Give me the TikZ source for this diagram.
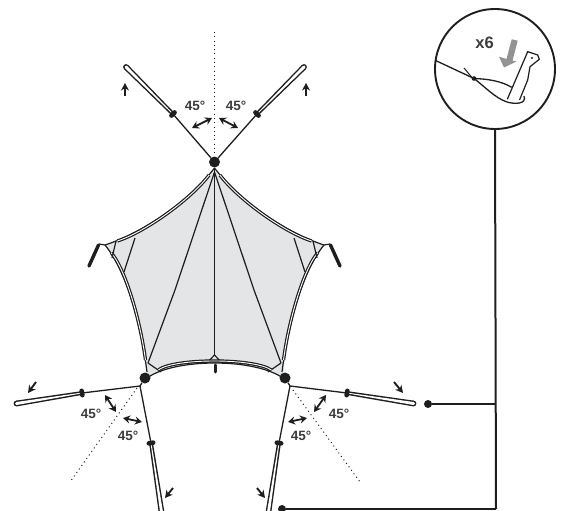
\documentclass[tikz,border=0pt]{standalone}
\usepackage{fontspec}
\setmainfont{Liberation Sans}
\usetikzlibrary{arrows.meta,calc}
\definecolor{ink}{HTML}{1E1E1E}
\definecolor{tent}{HTML}{E3E5E7}
\definecolor{lab}{HTML}{3C3C3C}
\tikzset{
  x=1pt,y=-1pt,
  guy/.style={draw=ink,line width=1.3pt},
  rib/.style={draw=ink,line width=1.2pt},
  dotnode/.style={circle,fill=ink,inner sep=0pt,minimum size=#1},
  dotted guide/.style={draw=ink,line width=1pt,dash pattern=on 1pt off 3.3pt},
  dbl/.style={double=white,double distance=0.9pt,draw=ink,line width=1.2pt},
  small arrow/.style={draw=ink,line width=1.9pt,-{Stealth[length=7.5pt,width=8pt,inset=2.4pt]}},
  both arrow/.style={draw=ink,line width=1.8pt,{Stealth[length=7pt,width=8pt,inset=2.4pt]}-{Stealth[length=7pt,width=8pt,inset=2.4pt]}},
  deg/.style={font=\fontsize{13.5}{15}\selectfont\bfseries,text=lab,inner sep=0pt},
  link/.style={draw=ink,line width=2pt},
}
% loop: from knot (#1) to tip (#2)
\newcommand{\guyloop}[2]{%
  \fill[ink] ($(#1)!1.9pt!90:(#2)$) -- ($(#2)!2.9pt!-90:(#1)$) -- ($(#2)!2.9pt!90:(#1)$) -- ($(#1)!1.9pt!-90:(#2)$) -- cycle;
  \fill[ink] (#2) circle (2.9pt);
  \fill[white] ($(#1)!0.4pt!90:(#2)$) -- ($(#2)!1.5pt!-90:(#1)$) -- ($(#2)!1.5pt!90:(#1)$) -- ($(#1)!0.4pt!-90:(#2)$) -- cycle;
  \fill[white] (#2) circle (1.5pt);
  \draw[ink,line width=4.6pt,line cap=round] ($(#1)!2.2pt!90:(#2)$) -- ($(#1)!2.2pt!-90:(#2)$);
}
\newcommand{\halftent}{%
  \draw[rib] (214.5,172) -- (175,290) -- (148,363);
  \draw[rib] (148,363) -- (161,372);
  % top-left edge
  \draw[rib] (214.5,168) .. controls (190,200) and (145,232) .. (105,245);
  \draw[dbl,shorten <=9pt,shorten >=13pt] (214.5,168) .. controls (190,200) and (145,232) .. (105,245);
  % left edge
  \draw[rib] (105,245) .. controls (127,272) and (141,325) .. (147,372);
  \draw[dbl,shorten <=10pt,shorten >=12pt] (105,245) .. controls (127,272) and (141,325) .. (147,372);
  % corner ribs
  \draw[rib] (116,241) -- (112,258);
  \draw[rib] (135,238) -- (124,272);
  % hook
  \draw[ink,line width=1.2pt] (105,245) -- (99,244);
  \draw[ink,line width=3.4pt,line cap=round] (98.5,245) -- (89,266);
}
\begin{document}
\begin{tikzpicture}
\useasboundingbox (0,0) rectangle (563,511);
\clip (0,0) rectangle (563,511);

% tent fill
\fill[tent] (214.5,168) .. controls (190,200) and (145,232) .. (105,245)
  .. controls (127,272) and (141,325) .. (147,378)
  .. controls (175,358) and (254,358) .. (283,378)
  .. controls (288,325) and (302,272) .. (324,245)
  .. controls (284,232) and (239,200) .. (214.5,168) -- cycle;
\halftent
\begin{scope}[xshift=429pt,xscale=-1]\halftent\end{scope}
% centre and bottom
\draw[rib] (214.5,168) -- (214.5,355);
\draw[rib] (214.5,355) -- (207,363);
\draw[rib] (214.5,355) -- (222,363);
\draw[ink,line width=3pt,line cap=round] (215,365) -- (215,372);
\draw[rib] (147,378) .. controls (175,358) and (254,358) .. (283,378);
\draw[dbl,shorten <=14pt,shorten >=14pt] (147,378) .. controls (175,358) and (254,358) .. (283,378);

% anchor dots and junctions
\node[dotnode=11pt] (apex) at (214.5,162) {};
\node[dotnode=11pt] (bl) at (145,378) {};
\node[dotnode=11pt] (br) at (285,378) {};
\coordinate (jl) at (140,386);
\coordinate (jr) at (290,386);
\draw[guy] (bl) -- (jl);
\draw[guy] (br) -- (jr);

% top guys
\coordinate (kt1) at (173,114); \coordinate (tt1) at (126,67);
\coordinate (kt2) at (257,114); \coordinate (tt2) at (304,67);
\draw[dotted guide] (214.5,32) -- (214.5,155);
\draw[guy] (apex) -- (kt1);
\draw[guy] (apex) -- (kt2);
\guyloop{kt1}{tt1}
\guyloop{kt2}{tt2}
\draw[small arrow] (125,96) -- (125,83);
\draw[small arrow] (306,96) -- (306,83);
\draw[both arrow] (192,128) -- (212,118);
\draw[both arrow] (238,128) -- (219,118);
\node[deg] at (195,106) {45°};
\node[deg] at (236,106) {45°};

% bottom-left guys
\coordinate (kl1) at (82,393); \coordinate (tl1) at (16.5,403.5);
\coordinate (kl2) at (151,443); \coordinate (tl2) at (162,515);
\draw[guy] (jl) -- (kl1);
\draw[guy] (jl) -- (kl2);
\guyloop{kl1}{tl1}
\guyloop{kl2}{tl2}
\draw[dotted guide] (137,388) -- (70,482);
\draw[small arrow] (36,382) -- (28,393);
\draw[small arrow] (173,488) -- (165,498);
\draw[both arrow] (105,395) -- (116,412);
\draw[both arrow] (123,418) -- (142,422);
\node[deg] at (91,414) {45°};
\node[deg] at (128,436) {45°};

% bottom-right guys
\coordinate (kr1) at (347,393); \coordinate (tr1) at (413.5,403.5);
\coordinate (kr2) at (279,443); \coordinate (tr2) at (268,515);
\draw[guy] (jr) -- (kr1);
\draw[guy] (jr) -- (kr2);
\guyloop{kr1}{tr1}
\guyloop{kr2}{tr2}
\draw[dotted guide] (293,390) -- (360,482);
\draw[small arrow] (394,382) -- (403,393);
\draw[small arrow] (257,488) -- (265,498);
\draw[both arrow] (326,395) -- (314,412);
\draw[both arrow] (307,418) -- (288,422);
\node[deg] at (339,414) {45°};
\node[deg] at (301,436) {45°};

% detail circle
\node[circle,draw=ink,line width=1.9pt,minimum size=120pt,inner sep=0pt,fill=white] (detail) at (495,69) {};
\fill[gray!85] (511.7,39.3) -- (517.7,40.7) -- (512.5,60.7) -- (516.5,61.5) -- (504,67.5) -- (499,56.7) -- (506.5,59) -- cycle;
\node[font=\fontsize{16.5}{18}\selectfont\bfseries,text=lab,inner sep=0pt] at (484.5,43) {x6};
\coordinate (k0) at (474,78.5);
\draw[ink,line width=1.3pt] (436,60.7) -- (k0) .. controls (488,79) and (501,81) .. (511.7,87.3);
\draw[ink,line width=1.3pt] (k0) .. controls (484,86) and (495,98) .. (507,102) .. controls (515,104.5) and (527,104) .. (524,96);
\draw[ink,line width=1.2pt,fill=white] (507.3,99.3) -- (527.7,51.7) -- (537.7,55) -- (539.3,59.3) -- (530,66.7) -- (527.7,80) -- (519.5,100);
\fill[ink] (532,58) circle (1.2pt);
\draw[ink,line width=1pt] (464,68) -- (474,80);
\fill[ink] (474,78.5) circle (2.3pt);

% connectors
\node[dotnode=8pt] (e1) at (428,404) {};
\node[dotnode=8pt] (e2) at (282,509) {};
\coordinate (busa) at (496,404);
\coordinate (busb) at (496,509);
\draw[link] (detail.south) -- (busb);
\draw[link] (e1) -- (busa);
\draw[link] (e2) -- (busb);
\end{tikzpicture}
\end{document}
